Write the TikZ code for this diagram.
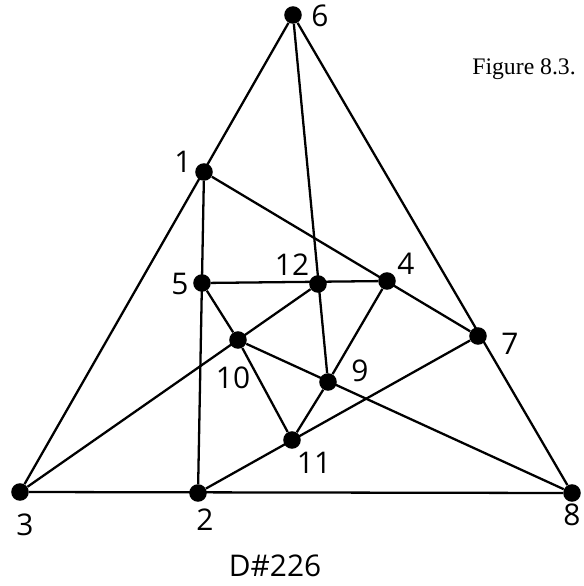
\documentclass[tikz,border=0pt]{standalone}
\usepackage{fontspec}
\setmainfont{Open Sans}
\newfontfamily\capfont{Liberation Serif}
\usetikzlibrary{positioning}

\begin{document}
\begin{tikzpicture}[
    x=0.02cm, y=-0.02cm,
    font=\fontsize{17}{19}\selectfont,
    dot/.style={circle, fill=black, inner sep=0pt, minimum size=10pt},
    lbl/.style={inner sep=0pt},
    edge/.style={line width=1.3pt}
]
\useasboundingbox (0,0) rectangle (584,586);
% vertices
\node[dot] (v6) at (293,15) {};
\node[dot] (v1) at (204,172) {};
\node[dot] (v5) at (202,283) {};
\node[dot] (v12) at (318,284) {};
\node[dot] (v4) at (387,281) {};
\node[dot] (v7) at (478,336) {};
\node[dot] (v10) at (238,340) {};
\node[dot] (v9) at (328,382) {};
\node[dot] (v11) at (292,440) {};
\node[dot] (v3) at (20,492) {};
\node[dot] (v2) at (198,493) {};
\node[dot] (v8) at (572,493) {};
% labels
\node[lbl] (l6) at (320,16) {6};
\node[lbl] (l1) at (183,162) {1};
\node[lbl] (l5) at (180,284) {5};
\node[lbl] (l12) at (292,265) {12};
\node[lbl] (l4) at (406,264) {4};
\node[lbl] (l7) at (510,344) {7};
\node[lbl] (l10) at (233,378) {10};
\node[lbl] (l9) at (360,371) {9};
\node[lbl] (l11) at (314,463) {11};
\node[lbl] (l3) at (25,525) {3};
\node[lbl] (l2) at (205,520) {2};
\node[lbl] (l8) at (572,515) {8};
\node[lbl] (name) at (275,566) {D\#226};
\node[lbl, anchor=base west, font=\capfont\fontsize{13.5}{15}\selectfont] (fig) at (472,74) {Figure 8.3.};
% edges
\draw[edge] (v3) -- (v6) -- (v8) -- (v3);
\draw[edge] (v6) -- (v9);
\draw[edge] (v1) -- (v2);
\draw[edge] (v1) -- (v7);
\draw[edge] (v5) -- (v4);
\draw[edge] (v3) -- (v12);
\draw[edge] (v5) -- (v10) -- (v8);
\draw[edge] (v10) -- (v11) -- (v9) -- (v4);
\draw[edge] (v2) -- (v7);
\end{tikzpicture}
\end{document}
